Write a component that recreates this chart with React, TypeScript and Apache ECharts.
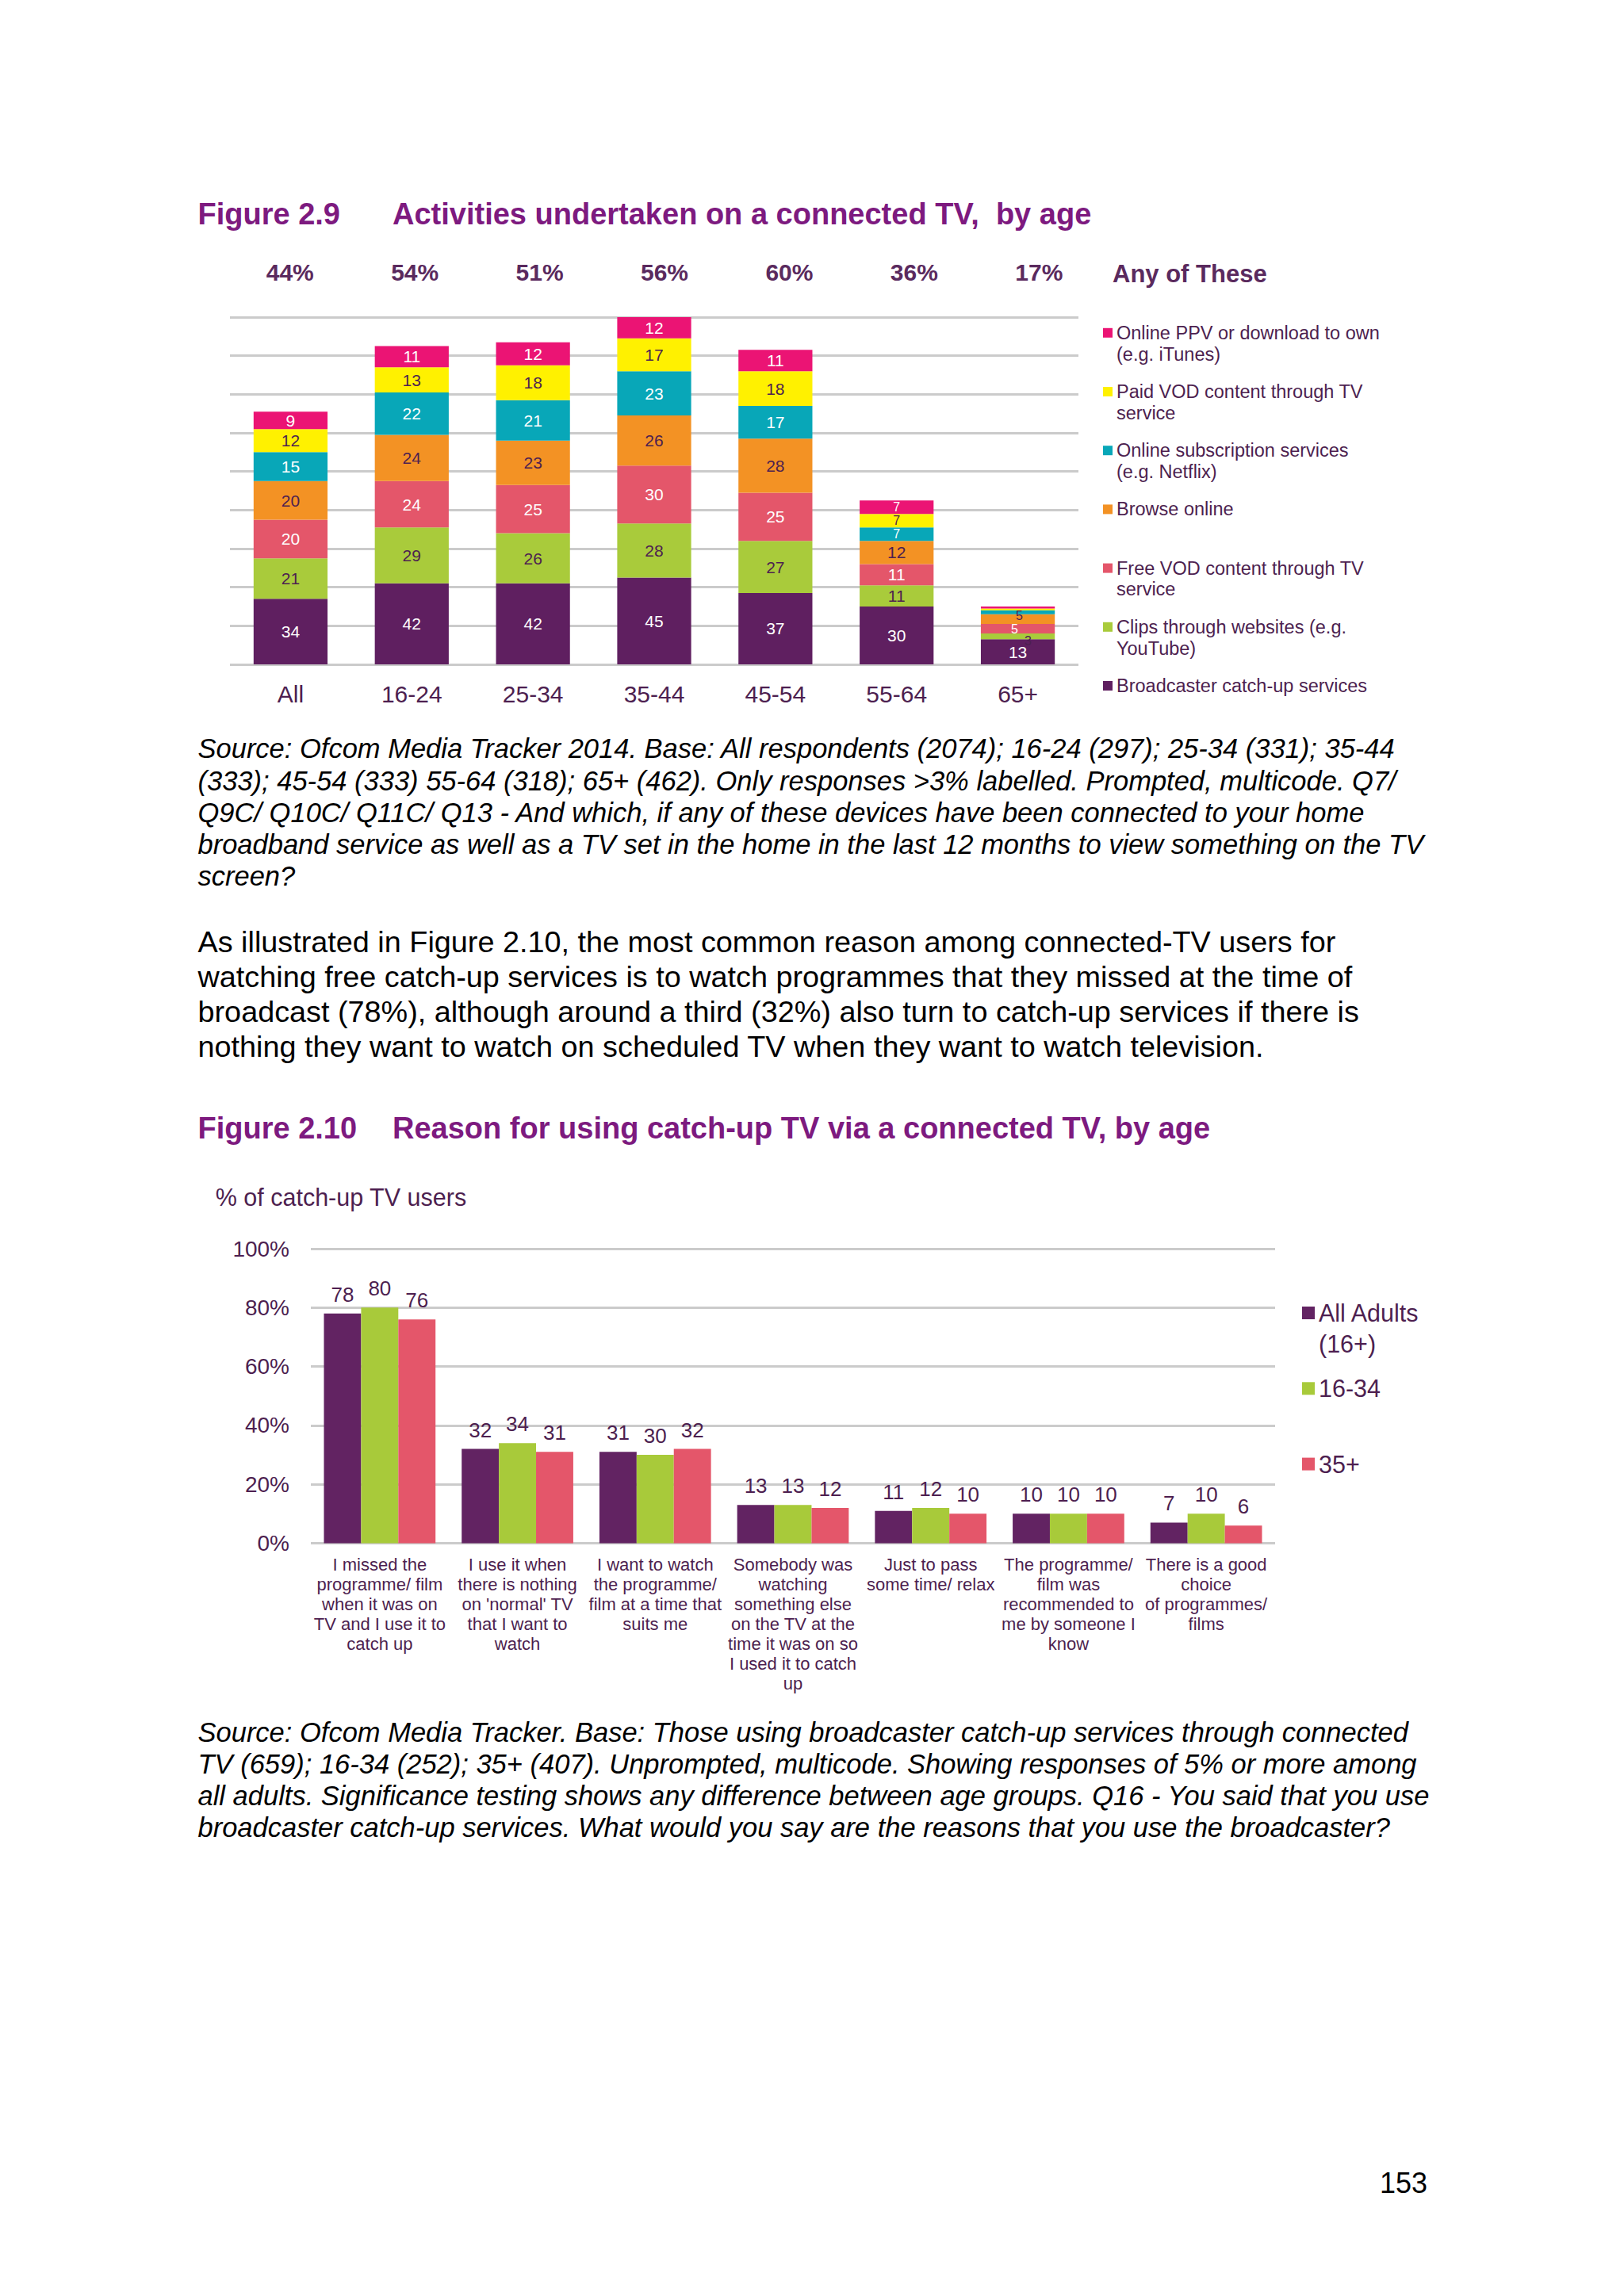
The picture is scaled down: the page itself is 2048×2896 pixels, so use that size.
import React, { useEffect, useRef } from "react";
import * as echarts from "echarts";

// ---------- Figure 2.9 data ----------
const ageGroups = ["All", "16-24", "25-34", "35-44", "45-54", "55-64", "65+"];
const anyOfThese = ["44%", "54%", "51%", "56%", "60%", "36%", "17%"];
const broadcasterCatchUp = [34, 42, 42, 45, 37, 30, 13];
const clipsWebsites = [21, 29, 26, 28, 27, 11, 3];
const freeVod = [20, 24, 25, 30, 25, 11, 5];
const browseOnline = [20, 24, 23, 26, 28, 12, 5];
const onlineSubscription = [15, 22, 21, 23, 17, 7, 2];
const paidVod = [12, 13, 18, 17, 18, 7, 1];
const onlinePpv = [9, 11, 12, 12, 11, 7, 1];

// ---------- Figure 2.10 data ----------
const reasons = [
  "I missed the\nprogramme/ film\nwhen it was on\nTV and I use it to\ncatch up",
  "I use it when\nthere is nothing\non 'normal' TV\nthat I want to\nwatch",
  "I want to watch\nthe programme/\nfilm at a time that\nsuits me",
  "Somebody was\nwatching\nsomething else\non the TV at the\ntime it was on so\nI used it to catch\nup",
  "Just to pass\nsome time/ relax",
  "The programme/\nfilm was\nrecommended to\nme by someone I\nknow",
  "There is a good\nchoice\nof programmes/\nfilms",
];
const allAdults = [78, 32, 31, 13, 11, 10, 7];
const age16to34 = [80, 34, 30, 13, 12, 10, 10];
const age35plus = [76, 31, 32, 12, 10, 10, 6];

// ---------- Page text ----------
const source1 = [
  "Source: Ofcom Media Tracker 2014. Base: All respondents (2074); 16-24 (297); 25-34 (331); 35-44",
  "(333); 45-54 (333) 55-64 (318); 65+ (462). Only responses >3% labelled. Prompted, multicode. Q7/",
  "Q9C/ Q10C/ Q11C/ Q13 - And which, if any of these devices have been connected to your home",
  "broadband service as well as a TV set in the home in the last 12 months to view something on the TV",
  "screen?",
];
const bodyText = [
  "As illustrated in Figure 2.10, the most common reason among connected-TV users for",
  "watching free catch-up services is to watch programmes that they missed at the time of",
  "broadcast (78%), although around a third (32%) also turn to catch-up services if there is",
  "nothing they want to watch on scheduled TV when they want to watch television.",
];
const source2 = [
  "Source: Ofcom Media Tracker. Base: Those using broadcaster catch-up services through connected",
  "TV (659); 16-34 (252); 35+ (407). Unprompted, multicode. Showing responses of 5% or more among",
  "all adults. Significance testing shows any difference between age groups. Q16 - You said that you use",
  "broadcaster catch-up services. What would you say are the reasons that you use the broadcaster?",
];

const FONT = "Liberation Sans";
const TXT = "#4D1F50";
const TITLE = "#7D1A7F";
const GRID = "#CBCBCB";

const activityDefs = [
  { name: "Broadcaster catch-up services", legend: "Broadcaster catch-up services\n ", data: broadcasterCatchUp, color: "#5F1F60", label: "#ffffff", lastOffset: null as number[] | null },
  { name: "Clips through websites (e.g. YouTube)", legend: "Clips through websites (e.g.\nYouTube)", data: clipsWebsites, color: "#A9CB3B", label: TXT, lastOffset: [13, 6] },
  { name: "Free VOD content through TV service", legend: "Free VOD content through TV\nservice", data: freeVod, color: "#E4566A", label: "#ffffff", lastOffset: [-4, 1] },
  { name: "Browse online", legend: "Browse online\n ", data: browseOnline, color: "#F39224", label: TXT, lastOffset: [2, -4] },
  { name: "Online subscription services (e.g. Netflix)", legend: "Online subscription services\n(e.g. Netflix)", data: onlineSubscription, color: "#08A7B8", label: "#ffffff", lastOffset: null },
  { name: "Paid VOD content through TV service", legend: "Paid VOD content through TV\nservice", data: paidVod, color: "#FFF100", label: TXT, lastOffset: null },
  { name: "Online PPV or download to own (e.g. iTunes)", legend: "Online PPV or download to own\n(e.g. iTunes)", data: onlinePpv, color: "#EB1474", label: "#ffffff", lastOffset: null },
];

const reasonDefs = [
  { name: "All Adults (16+)", legend: "All Adults\n(16+)", data: allAdults, color: "#622362" },
  { name: "16-34", legend: "16-34\n ", data: age16to34, color: "#A8CA3A" },
  { name: "35+", legend: "35+\n ", data: age35plus, color: "#E4566A" },
];

// A leading empty line puts the first visible line on the legend icon's centre.
const legend1Map: Record<string, string> = {};
activityDefs.forEach((d) => (legend1Map[d.name] = "\n" + d.legend));
const legend2Map: Record<string, string> = {};
reasonDefs.forEach((d) => (legend2Map[d.name] = "\n" + d.legend));

function textEl(text: string, x: number, y: number, style: any) {
  return {
    type: "text",
    x,
    y,
    silent: true,
    style: { text, fontFamily: FONT, fill: "#000", ...style },
  };
}

export default function App() {
  const ref = useRef<HTMLDivElement>(null);

  useEffect(() => {
    if (!ref.current) return;
    const chart = echarts.init(ref.current, null, { renderer: "svg" });

    const L1 = 26.8;
    const L2 = 39;
    const lastIdx = ageGroups.length - 1;

    const segData = (d: (typeof activityDefs)[number]) =>
      d.data.map((v, i) => {
        const lbl: any = {};
        if (v < 8) {
          lbl.fontSize = 16;
          lbl.lineHeight = 14;
        }
        if (i === lastIdx && d.lastOffset) lbl.offset = d.lastOffset;
        return Object.keys(lbl).length ? { value: v, label: lbl } : v;
      });

    const option: any = {
      animation: false,
      backgroundColor: "#ffffff",
      textStyle: { fontFamily: FONT },
      grid: [
        { left: 290, top: 400, width: 1070, height: 438 },
        { left: 287, top: 362, width: 1102, height: 10 },
        { left: 392, top: 1575, width: 1216, height: 371.5 },
      ],
      xAxis: [
        {
          gridIndex: 0,
          type: "category",
          data: ageGroups,
          axisLine: { show: false },
          axisTick: { show: false },
          axisLabel: { fontSize: 30, color: TXT, margin: 22 },
        },
        {
          gridIndex: 1,
          type: "category",
          position: "top",
          data: anyOfThese,
          axisLine: { show: false },
          axisTick: { show: false },
          axisLabel: { fontSize: 30, fontWeight: "bold", color: "#5A2A5E", margin: 4 },
        },
        {
          gridIndex: 2,
          type: "category",
          data: reasons,
          axisLine: { show: false },
          axisTick: { show: false },
          axisLabel: { interval: 0, fontSize: 22, lineHeight: 25, color: TXT, margin: 14 },
        },
      ],
      yAxis: [
        {
          gridIndex: 0,
          type: "value",
          min: 0,
          max: 180,
          interval: 20,
          axisLabel: { show: false },
          axisLine: { show: false },
          axisTick: { show: false },
          splitLine: { lineStyle: { color: GRID, width: 3 } },
        },
        { gridIndex: 1, type: "value", show: false },
        {
          gridIndex: 2,
          type: "value",
          min: 0,
          max: 100,
          interval: 20,
          axisLine: { show: false },
          axisTick: { show: false },
          axisLabel: { formatter: "{value}%", fontSize: 28, color: TXT, margin: 27 },
          splitLine: { lineStyle: { color: GRID, width: 3 } },
        },
      ],
      legend: [
        {
          orient: "vertical",
          left: 1386,
          top: 419.8 - 1.5 * L1 - 5,
          itemWidth: 12,
          itemHeight: 12,
          itemGap: 74.2 - 3 * L1,
          icon: "rect",
          data: activityDefs.map((d) => d.name).reverse(),
          formatter: (n: string) => legend1Map[n] || n,
          textStyle: {
            fontSize: 23.5,
            lineHeight: L1,
            color: TXT,
            backgroundColor: "rgba(255,255,255,0)",
          },
        },
        {
          orient: "vertical",
          left: 1637,
          top: 1656 - 1.5 * L2 - 5,
          itemWidth: 16,
          itemHeight: 16,
          itemGap: 95.3 - 3 * L2,
          icon: "rect",
          data: reasonDefs.map((d) => d.name),
          formatter: (n: string) => legend2Map[n] || n,
          textStyle: {
            fontSize: 30.5,
            lineHeight: L2,
            color: TXT,
            backgroundColor: "rgba(255,255,255,0)",
          },
        },
      ],
      series: [
        ...activityDefs.map((d) => ({
          type: "bar",
          name: d.name,
          xAxisIndex: 0,
          yAxisIndex: 0,
          stack: "activities",
          barWidth: "61%",
          data: segData(d),
          itemStyle: { color: d.color },
          label: {
            show: true,
            position: "inside",
            fontSize: 21,
            lineHeight: 18,
            color: d.label,
            formatter: (p: any) => (p.value >= 3 ? String(p.value) : ""),
          },
        })),
        ...reasonDefs.map((d) => ({
          type: "bar",
          name: d.name,
          xAxisIndex: 2,
          yAxisIndex: 2,
          barGap: "0%",
          barCategoryGap: "19%",
          data: d.data,
          itemStyle: { color: d.color },
          label: {
            show: true,
            position: "top",
            distance: 11,
            fontSize: 26,
            color: TXT,
          },
        })),
      ],
      graphic: [
        textEl("Figure 2.9", 249.5, 270, { fontSize: 38, fontWeight: "bold", fill: TITLE, verticalAlign: "middle" }),
        textEl("Activities undertaken on a connected TV,  by age", 495, 270, { fontSize: 38, fontWeight: "bold", fill: TITLE, verticalAlign: "middle" }),
        textEl("Any of These", 1403, 345, { fontSize: 31, fontWeight: "bold", fill: "#5A2A5E", verticalAlign: "middle" }),
        textEl(source1.join("\n"), 249.5, 924.4, { fontSize: 34.5, fontStyle: "italic", lineHeight: 40.2, verticalAlign: "top" }),
        textEl(bodyText.join("\n"), 249.5, 1166.6, { fontSize: 37.8, lineHeight: 43.7, verticalAlign: "top" }),
        textEl("Figure 2.10", 249.5, 1423, { fontSize: 38, fontWeight: "bold", fill: TITLE, verticalAlign: "middle" }),
        textEl("Reason for using catch-up TV via a connected TV, by age", 495, 1423, { fontSize: 38, fontWeight: "bold", fill: TITLE, verticalAlign: "middle" }),
        textEl("% of catch-up TV users", 271.7, 1510, { fontSize: 30.5, fill: TXT, verticalAlign: "middle" }),
        textEl(source2.join("\n"), 249.5, 2164.5, { fontSize: 34.5, fontStyle: "italic", lineHeight: 40, verticalAlign: "top" }),
        textEl("153", 1740, 2753, { fontSize: 36, verticalAlign: "middle" }),
      ],
    };

    chart.setOption(option);
    return () => chart.dispose();
  }, []);

  return (
    <div
      ref={ref}
      style={{ position: "absolute", left: 0, top: 0, width: 2048, height: 2896, background: "#ffffff" }}
    />
  );
}
